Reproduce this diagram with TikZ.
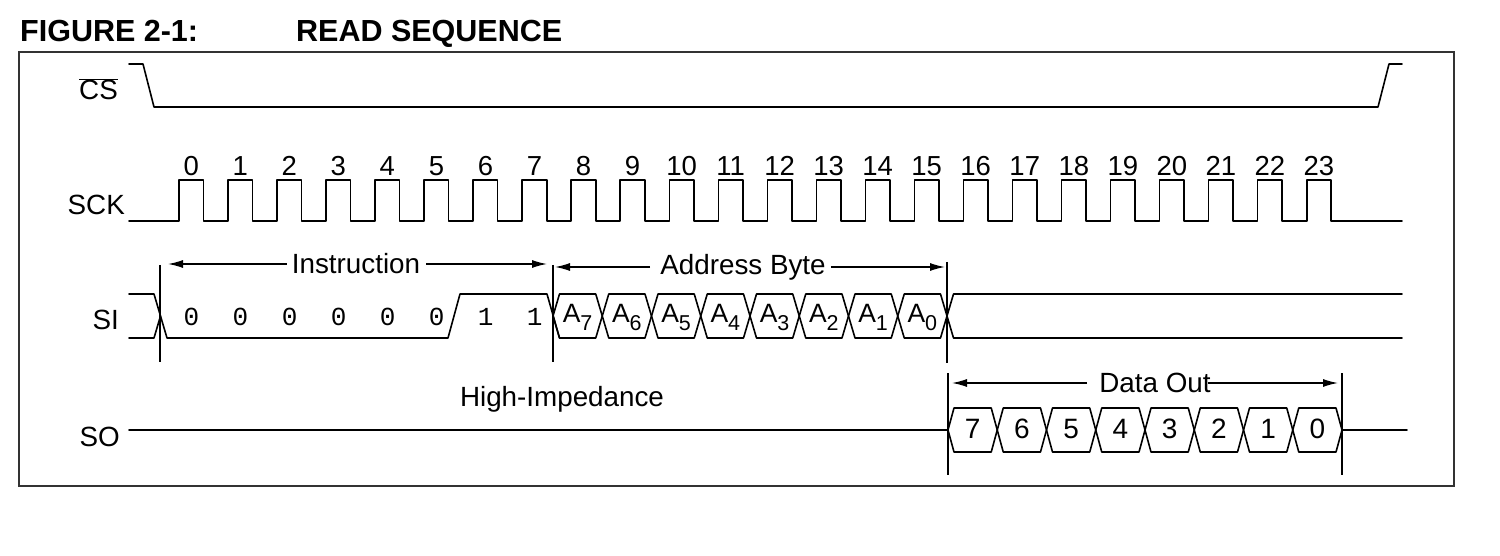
\documentclass[tikz,border=0pt]{standalone}
\usepackage{fontspec}
\setmainfont{Liberation Sans}
\newfontfamily\monofont{Liberation Mono}
\usetikzlibrary{arrows.meta}
\begin{document}
\begin{tikzpicture}[x=1pt,y=-1pt,
  wave/.style={line width=1.6pt, line join=round, line cap=round},
  marker/.style={line width=1.4pt},
  arr/.style={line width=1.3pt, -{Latex[length=15pt,width=8pt]}},
  lab/.style={font=\fontsize{27.8}{32}\selectfont, inner sep=0pt},
  clk/.style={font=\fontsize{27.5}{30}\selectfont, inner sep=0pt, anchor=base},
  mono/.style={font=\monofont\fontsize{26}{30}\selectfont, inner sep=0pt, anchor=base},
  cell/.style={font=\fontsize{26.5}{30}\selectfont, inner sep=0pt, anchor=base},
  sodig/.style={font=\fontsize{28}{32}\selectfont, inner sep=0pt, anchor=base},
  ttl/.style={font=\fontsize{30.5}{34}\selectfont\bfseries, inner sep=0pt, anchor=base west}]
\useasboundingbox (0,0) rectangle (1500,556);
% title and frame
\node[ttl] (t1) at (20,42) {FIGURE 2-1:};
\node[ttl] (t2) at (296,42) {READ SEQUENCE};
\draw[line width=1.5pt, black!80] (19,52) rectangle (1454,486);
% signal labels
\node[lab, anchor=base east] (cs) at (118,100) {$\overline{\mbox{CS}}$};
\node[lab, anchor=base east] (sck) at (125,215) {SCK};
\node[lab, anchor=base east] (si) at (119,330) {SI};
\node[lab, anchor=base east] (so) at (120,446) {SO};
% CS
\draw[wave] (129,64) -- (143,64) -- (154,107) -- (1378,107) -- (1389,64) -- (1402,64);
% SCK
\draw[wave] (129,221) foreach \k in {0,...,23} {
  -- ({179+49.03*\k},221) -- ({179+49.03*\k},180) -- ({203.5+49.03*\k},180) -- ({203.5+49.03*\k},221)
} -- (1402,221);
\foreach \k in {0,...,23} {
  \node[clk] (n\k) at ({191.25+49.03*\k},176) {\k};
}
% SI instruction part
\draw[wave] (129,294) -- (154,294) -- (167,338) -- (448,338) -- (460,294) -- (547,294) -- (559.5,338);
\draw[wave] (129,338) -- (154,338) -- (160.5,316);
\foreach \v [count=\i from 0] in {0,0,0,0,0,0,1,1} {
  \node[mono] (b\i) at ({191.5+49.03*\i},325) {\v};
}
% SI address hexagons
\foreach \s [count=\i from 0] in {7,6,5,4,3,2,1,0} {
  \pgfmathsetmacro\bx{553+49.25*\i}
  \draw[wave] (\bx,316) -- ({\bx+6.5},294) -- ({\bx+42.75},294) -- ({\bx+49.25},316)
    -- ({\bx+42.75},338) -- ({\bx+6.5},338) -- cycle;
  \node[cell] (a\i) at ({\bx+24.6},323) {A\raisebox{-8pt}{\fontsize{21.5}{24}\selectfont\s}};
}
\draw[wave] (947,316) -- (953.5,294) -- (1402,294);
\draw[wave] (947,316) -- (953.5,338) -- (1402,338);
% SO
\draw[wave] (129,430) -- (948,430);
\foreach \s [count=\i from 0] in {7,6,5,4,3,2,1,0} {
  \pgfmathsetmacro\cx{948+49.25*\i}
  \draw[wave] (\cx,430) -- ({\cx+6},408) -- ({\cx+43.25},408) -- ({\cx+49.25},430)
    -- ({\cx+43.25},452) -- ({\cx+6},452) -- cycle;
  \node[sodig] (d\i) at ({\cx+24.6},438) {\s};
}
\draw[wave] (1342,430) -- (1407,430);
% marker lines
\coordinate (m1t) at (160,265); \coordinate (m1b) at (160,362);
\coordinate (m2t) at (553,265); \coordinate (m2b) at (553,362);
\coordinate (m3t) at (947,262); \coordinate (m3b) at (947,363);
\coordinate (m4t) at (948,373); \coordinate (m4b) at (948,475);
\coordinate (m5t) at (1342,373); \coordinate (m5b) at (1342,475);
\draw[marker] (m1t) -- (m1b);
\draw[marker] (m2t) -- (m2b);
\draw[marker] (m3t) -- (m3b);
\draw[marker] (m4t) -- (m4b);
\draw[marker] (m5t) -- (m5b);
% span arrows
\node[lab, anchor=base] (instr) at (356,273) {Instruction};
\coordinate (iL) at (168,264); \coordinate (iR) at (547,264);
\draw[arr] ([xshift=-5pt]instr.west |- iL) -- (iL);
\draw[arr] ([xshift=6pt]instr.east |- iR) -- (iR);
\node[lab, anchor=base] (addr) at (743,275) {Address Byte};
\coordinate (aL) at (555,267); \coordinate (aR) at (945,267);
\draw[arr] ([xshift=-10pt]addr.west |- aL) -- (aL);
\draw[arr] ([xshift=5pt]addr.east |- aR) -- (aR);
\node[lab, anchor=base] (dout) at (1155,392) {Data Out};
\coordinate (dL) at (952,383); \coordinate (dR) at (1338,383);
\draw[arr] ([xshift=-12pt]dout.west |- dL) -- (dL);
\draw[arr] ([xshift=-3pt]dout.east |- dR) -- (dR);
\node[lab, anchor=base] (hiz) at (562,406) {High-Impedance};
\end{tikzpicture}
\end{document}
